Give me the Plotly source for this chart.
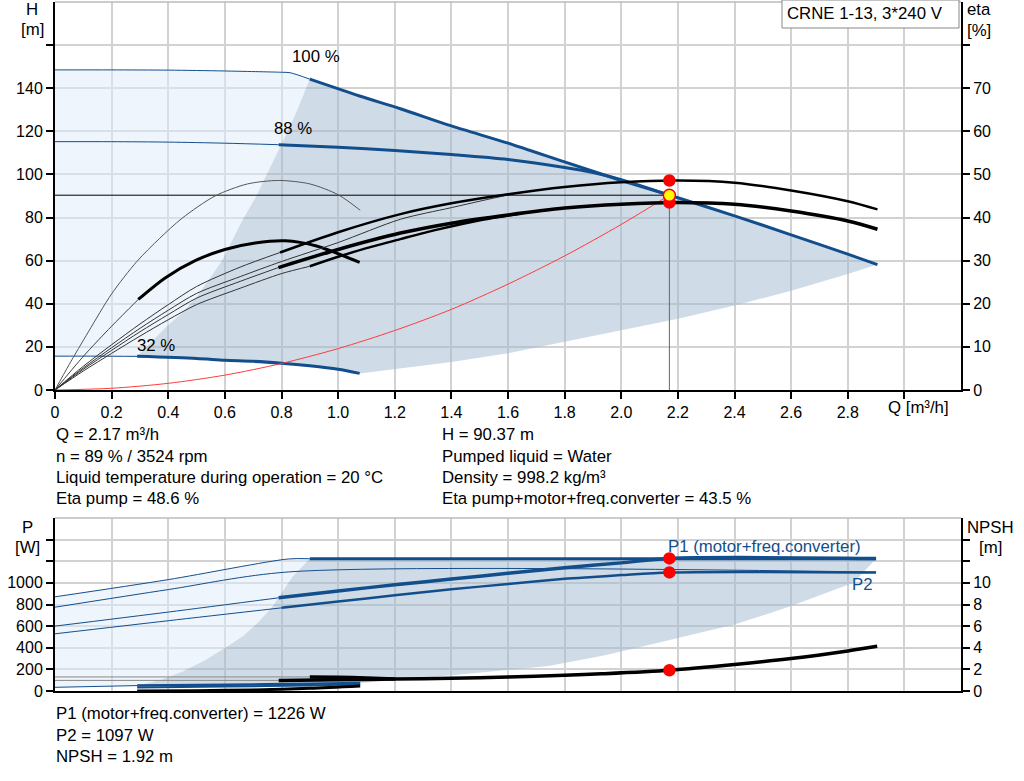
import plotly.graph_objects as go

W, H = 1024, 781
FONT = "Liberation Sans, Arial, sans-serif"
BLUE = "#134e8c"
RED = "#ff0000"
GRID = "#d2d2d2"
FILL_DARK = "rgba(160,185,210,0.5)"
FILL_LIGHT = "rgba(221,235,249,0.5)"
TXT = 16.8
TICK = 16

# ---- operating point ----
Q_OP = 2.17
H_OP = 90.37
ETA_PUMP = 48.6
ETA_TOTAL = 43.5
P1_OP = 1226
P2_OP = 1097
NPSH_OP = 1.92

# ---- H curves (m) ----
q_h100_thin = [0, 0.2, 0.4, 0.6, 0.8, 0.83, 0.9]
h100_thin = [148.5, 148.5, 148.4, 148.0, 147.4, 147.2, 144.2]
q_h100 = [0.9, 1.076, 1.22, 1.4, 1.6, 1.8, 2.0, 2.2, 2.4, 2.6, 2.8, 2.905]
h100 = [144.2, 136.4, 130.5, 122.5, 114.5, 105.8, 97.2, 89.2, 80.8, 72.0, 63.0, 58.2]

q_h88_thin = [0, 0.2, 0.4, 0.6, 0.79]
h88_thin = [115.2, 115.2, 115.0, 114.5, 113.8]
q_h88 = [0.79, 1.0, 1.2, 1.4, 1.6, 1.8, 1.9, 2.0, 2.17]
h88 = [113.8, 112.6, 111.1, 109.2, 106.9, 103.2, 100.9, 97.6, 90.4]

q_h32_thin = [0, 0.15, 0.29]
h32_thin = [15.7, 15.7, 15.6]
q_h32 = [0.29, 0.5, 0.6, 0.7, 0.8, 0.9, 1.0, 1.076]
h32 = [15.6, 14.6, 13.8, 13.3, 12.4, 11.2, 9.6, 7.7]

# operating area edges (H chart)
q_area_left = [0.29, 0.39, 0.45, 0.5, 0.59, 0.66, 0.707, 0.754, 0.8, 0.85, 0.9]
h_area_left = [15.6, 28.9, 36.0, 43.0, 60.0, 78.3, 89.0, 101.5, 114.0, 128.0, 144.2]
q_area_low = [1.076, 1.22, 1.4, 1.6, 1.8, 2.0, 2.2, 2.4, 2.6, 2.8, 2.905]
h_area_low = [7.7, 10.0, 13.0, 17.0, 22.3, 27.7, 33.0, 39.2, 46.0, 53.8, 58.2]

# system curve
q_sys = [0, 0.2, 0.4, 0.6, 0.8, 1.0, 1.2, 1.4, 1.6, 1.8, 2.0, 2.17]
h_sys = [0, 0.8, 3.1, 6.9, 12.3, 19.2, 27.6, 37.4, 49.1, 62.2, 76.8, 90.37]

# ---- eta curves (%) ----
q_eta_a = [0, 0.05, 0.118, 0.2, 0.289, 0.37, 0.448, 0.565, 0.68, 0.79, 0.9, 1.0, 1.078]
eta_a = [0, 5.9, 13.5, 22.3, 29.8, 35.2, 39.8, 45.0, 47.8, 48.6, 47.8, 45.3, 41.7]

q_eta_b_thin = [0, 0.1, 0.2, 0.294]
eta_b_thin = [0, 7.8, 14.8, 21.0]
q_eta_b = [0.294, 0.389, 0.495, 0.6, 0.707, 0.813, 0.924, 1.0, 1.076]
eta_b = [21.0, 26.0, 30.0, 32.6, 34.1, 34.6, 33.4, 31.6, 29.6]

q_eta_c_thin = [0, 0.1, 0.2, 0.3, 0.4, 0.5, 0.654, 0.795]
eta_c_thin = [0, 5.5, 10.5, 15.3, 19.8, 24.0, 28.5, 31.9]
q_eta_c = [0.795, 1.0, 1.22, 1.4, 1.6, 1.8, 2.0, 2.2, 2.4, 2.6, 2.8, 2.905]
eta_c = [31.9, 36.6, 40.8, 43.3, 45.4, 47.1, 48.2, 48.6, 48.1, 46.3, 43.8, 41.9]

q_eta_d = [0, 0.1, 0.2, 0.3, 0.4, 0.5, 0.654, 0.8, 1.0, 1.22, 1.4, 1.63, 1.8]
eta_d = [0, 5.1, 9.8, 14.3, 18.5, 22.4, 26.3, 29.8, 34.2, 39.6, 42.3, 45.6, 47.1]

q_eta_e_thin = [0, 0.1, 0.2, 0.3, 0.4, 0.5, 0.654, 0.789]
eta_e_thin = [0, 4.8, 9.2, 13.5, 17.5, 21.3, 25.2, 28.4]
q_eta_e = [0.789, 1.0, 1.22, 1.4, 1.6, 1.8, 2.0, 2.2, 2.4, 2.6, 2.8, 2.905]
eta_e = [28.4, 32.6, 36.4, 38.7, 40.6, 42.2, 43.1, 43.5, 43.1, 41.5, 39.2, 37.3]

q_eta_f_thin = [0, 0.1, 0.2, 0.3, 0.4, 0.5, 0.654, 0.8, 0.9]
eta_f_thin = [0, 4.4, 8.5, 12.5, 16.3, 19.8, 23.6, 27.0, 28.7]
q_eta_f = [0.9, 1.0, 1.1, 1.22, 1.35, 1.51, 1.65]
eta_f = [28.7, 30.9, 32.9, 35.0, 37.2, 39.5, 41.0]

# ---- power curves (W) ----
q_p1_100_thin = [0, 0.4, 0.824, 0.9]
p1_100_thin = [871, 1030, 1221, 1223]
q_p1_100 = [0.9, 2.9]
p1_100 = [1223, 1223]

q_p2_100 = [0, 0.4, 0.824, 2.9]
p2_100 = [775, 938, 1101, 1100]

q_p1_89_thin = [0, 0.4, 0.79]
p1_89_thin = [600, 730, 862]
q_p1_89 = [0.79, 1.0, 1.2, 1.4, 1.6, 1.8, 2.0, 2.17, 2.9]
p1_89 = [862, 925, 982, 1035, 1088, 1140, 1185, 1226, 1226]

q_p2_89_thin = [0, 0.4, 0.8]
p2_89_thin = [529, 650, 769]
q_p2_89 = [0.8, 1.0, 1.2, 1.4, 1.6, 1.8, 1.9, 2.0, 2.17, 2.9]
p2_89 = [769, 827, 885, 940, 990, 1038, 1055, 1072, 1097, 1097]

q_p1_32_thin = [0, 0.29]
p1_32_thin = [34, 50]
q_p1_32 = [0.29, 0.6, 0.9, 1.078]
p1_32 = [50, 58, 66, 75]
q_p2_32 = [0.29, 0.6, 0.9, 1.078]
p2_32 = [32, 41, 52, 62]

# power area edges
q_parea_left = [0.29, 0.37, 0.45, 0.53, 0.6, 0.665, 0.72, 0.77, 0.84, 0.9]
p_parea_left = [50, 100, 178, 285, 397, 508, 640, 785, 1062, 1223]
q_parea_low = [1.078, 1.43, 1.742, 1.93, 2.03, 2.4, 2.6, 2.82, 2.9]
p_parea_low = [75, 152, 231, 323, 383, 614, 785, 1000, 1223]

# ---- NPSH curves (m) ----
q_npsh_89 = [0.79, 1.0, 1.2, 1.4, 1.6, 1.8, 1.93, 2.17, 2.4, 2.6, 2.8, 2.904]
npsh_89 = [0.98, 1.03, 1.1, 1.18, 1.3, 1.45, 1.59, 1.92, 2.45, 3.0, 3.7, 4.13]
q_npsh_100 = [0.9, 1.0, 1.1, 1.2]
npsh_100 = [1.3, 1.27, 1.2, 1.12]
q_npsh_32 = [0.29, 0.5, 0.7, 0.9, 1.078]
npsh_32 = [0.0, 0.03, 0.1, 0.25, 0.47]
q_npsh_thin = [0, 0.79]
npsh_thin_89 = [0.98, 0.98]
q_npsh_thin_100 = [0, 0.9]
npsh_thin_100 = [1.3, 1.3]

x_ticks = [0, 0.2, 0.4, 0.6, 0.8, 1.0, 1.2, 1.4, 1.6, 1.8, 2.0, 2.2, 2.4, 2.6, 2.8, 3.0]
x_labels = ["0", "0.2", "0.4", "0.6", "0.8", "1.0", "1.2", "1.4", "1.6", "1.8",
            "2.0", "2.2", "2.4", "2.6", "2.8", ""]
h_ticks = [0, 20, 40, 60, 80, 100, 120, 140, 160]
eta_ticks = [0, 10, 20, 30, 40, 50, 60, 70, 80]
p_ticks = [0, 200, 400, 600, 800, 1000, 1200, 1400]
npsh_ticks = [0, 2, 4, 6, 8, 10, 12, 14]


def px(x):
    return x / W


def py(y):
    return 1 - y / H


def line(x, y, color, width, xa="x", ya="y", shape="spline"):
    return go.Scatter(x=x, y=y, mode="lines",
                      line={"color": color, "width": width, "shape": shape, "smoothing": 0.8},
                      xaxis=xa, yaxis=ya, hoverinfo="skip")


def area(x, y, color, xa="x", ya="y"):
    return go.Scatter(x=x, y=y, mode="lines", fill="toself", fillcolor=color,
                      line={"width": 0}, xaxis=xa, yaxis=ya, hoverinfo="skip")


def dot(x, y, xa, ya, color=RED, size=11, edge=RED):
    return go.Scatter(x=[x], y=[y], mode="markers",
                      marker={"color": color, "size": size, "line": {"color": edge, "width": 1.5}},
                      xaxis=xa, yaxis=ya, hoverinfo="skip")


def labels(ticks, last_shown):
    return [str(t) if t <= last_shown else "" for t in ticks]


traces = []

# --- top chart areas
traces.append(area(q_h100_thin + q_area_left[::-1] + q_h32_thin[::-1],
                   h100_thin + h_area_left[::-1] + h32_thin[::-1], FILL_LIGHT))
traces.append(area(q_area_left + q_h100 + q_area_low[::-1] + q_h32[::-1],
                   h_area_left + h100 + h_area_low[::-1] + h32[::-1], FILL_DARK))

# --- H curves
traces += [
    line(q_h100_thin, h100_thin, BLUE, 1),
    line(q_h100, h100, BLUE, 3),
    line(q_h88_thin, h88_thin, BLUE, 1),
    line(q_h88, h88, BLUE, 3),
    line(q_h32_thin, h32_thin, BLUE, 1),
    line(q_h32, h32, BLUE, 3),
    line(q_sys, h_sys, "#ff3b3b", 1),
    line([0, Q_OP], [H_OP, H_OP], "black", 1, shape="linear"),
    line([Q_OP, Q_OP], [H_OP, 0], "#666666", 1, shape="linear"),
]

# --- eta curves
traces += [
    line(q_eta_a, eta_a, "#555555", 1, ya="y2"),
    line(q_eta_b_thin, eta_b_thin, "#444444", 1, ya="y2"),
    line(q_eta_b, eta_b, "black", 3, ya="y2"),
    line(q_eta_d, eta_d, "#333333", 1, ya="y2"),
    line(q_eta_c_thin, eta_c_thin, "#333333", 1, ya="y2"),
    line(q_eta_c, eta_c, "black", 2.5, ya="y2"),
    line(q_eta_f_thin, eta_f_thin, "#333333", 1, ya="y2"),
    line(q_eta_f, eta_f, "black", 2.5, ya="y2"),
    line(q_eta_e_thin, eta_e_thin, "#333333", 1, ya="y2"),
    line(q_eta_e, eta_e, "black", 3.5, ya="y2"),
    dot(Q_OP, ETA_PUMP, "x", "y2"),
    dot(Q_OP, ETA_TOTAL, "x", "y2"),
    dot(Q_OP, H_OP / 2, "x", "y2", color="#ffff00", size=12),
]

# --- bottom chart areas
traces.append(area(q_p1_100_thin + q_parea_left[::-1] + q_p1_32_thin[::-1],
                   p1_100_thin + p_parea_left[::-1] + p1_32_thin[::-1],
                   FILL_LIGHT, "x2", "y3"))
traces.append(area(q_parea_left + q_p1_100 + q_parea_low[::-1] + q_p1_32[::-1],
                   p_parea_left + p1_100 + p_parea_low[::-1] + p1_32[::-1],
                   FILL_DARK, "x2", "y3"))

# --- power curves
traces += [
    line(q_p1_100_thin, p1_100_thin, BLUE, 1, "x2", "y3"),
    line(q_p1_100, p1_100, BLUE, 3, "x2", "y3"),
    line(q_p2_100, p2_100, BLUE, 1, "x2", "y3"),
    line(q_p1_89_thin, p1_89_thin, BLUE, 1, "x2", "y3"),
    line(q_p1_89, p1_89, BLUE, 3.5, "x2", "y3"),
    line(q_p2_89_thin, p2_89_thin, BLUE, 1, "x2", "y3"),
    line(q_p2_89, p2_89, BLUE, 2.5, "x2", "y3"),
    line(q_p1_32_thin, p1_32_thin, BLUE, 1, "x2", "y3"),
    line(q_p1_32, p1_32, BLUE, 2.5, "x2", "y3"),
    line(q_p2_32, p2_32, BLUE, 2, "x2", "y3"),
    dot(Q_OP, P1_OP, "x2", "y3"),
    dot(Q_OP, P2_OP, "x2", "y3"),
]

# --- NPSH curves
traces += [
    line(q_npsh_thin, npsh_thin_89, "#888888", 1, "x2", "y4"),
    line(q_npsh_thin_100, npsh_thin_100, "#888888", 1, "x2", "y4"),
    line(q_npsh_32, npsh_32, "black", 3, "x2", "y4"),
    line(q_npsh_100, npsh_100, "black", 3.5, "x2", "y4"),
    line(q_npsh_89, npsh_89, "black", 3.5, "x2", "y4"),
    dot(Q_OP, NPSH_OP, "x2", "y4"),
]

fig = go.Figure(traces)

x_dom = [px(55), px(961)]
top_dom = [py(390), py(2)]
bot_dom = [py(691), py(518)]

axis_common = dict(showline=True, linecolor="black", linewidth=2, zeroline=False,
                   automargin=False,
                   ticks="outside", ticklen=7, tickwidth=1.5, tickcolor="black",
                   tickfont={"family": FONT, "size": TICK, "color": "black"})

fig.update_layout(
    template="none",
    width=W, height=H,
    margin={"l": 0, "r": 0, "t": 0, "b": 0, "pad": 0},
    paper_bgcolor="white", plot_bgcolor="white",
    showlegend=False,
    font={"family": FONT, "size": TXT, "color": "black"},
    xaxis=dict(axis_common, domain=x_dom, anchor="y", range=[0, 3.2],
               tickvals=x_ticks, ticktext=x_labels, showgrid=True,
               gridcolor=GRID, gridwidth=1.5),
    yaxis=dict(axis_common, domain=top_dom, anchor="x", range=[0, 180],
               tickvals=h_ticks, ticktext=labels(h_ticks, 140), showgrid=True,
               gridcolor=GRID, gridwidth=1.5),
    yaxis2=dict(axis_common, overlaying="y", side="right", anchor="x", range=[0, 90],
                tickvals=eta_ticks, ticktext=labels(eta_ticks, 70), showgrid=False),
    xaxis2=dict(axis_common, domain=x_dom, anchor="y3", range=[0, 3.2],
                tickvals=x_ticks, showticklabels=False, ticks="", showgrid=True,
                gridcolor=GRID, gridwidth=1.5),
    yaxis3=dict(axis_common, domain=bot_dom, anchor="x2", range=[0, 1600],
                tickvals=p_ticks, ticktext=labels(p_ticks, 1000), showgrid=True,
                gridcolor=GRID, gridwidth=1.5),
    yaxis4=dict(axis_common, overlaying="y3", side="right", anchor="x2", range=[0, 16],
                tickvals=npsh_ticks, ticktext=labels(npsh_ticks, 10), showgrid=False),
)

shapes = [
    dict(type="line", xref="paper", yref="paper", x0=x_dom[0], x1=x_dom[1],
         y0=top_dom[1], y1=top_dom[1], line={"color": "#bbbbbb", "width": 1.5}),
    dict(type="line", xref="paper", yref="paper", x0=x_dom[0], x1=x_dom[1],
         y0=bot_dom[1], y1=bot_dom[1], line={"color": "#bbbbbb", "width": 1.5}),
    dict(type="rect", xref="paper", yref="paper", x0=px(782), x1=px(959),
         y0=py(28), y1=py(0), fillcolor="white", line={"color": "#888888", "width": 1},
         layer="above"),
]
fig.update_layout(shapes=shapes)


def ann(text, x, y, anchor="left", color="black"):
    return dict(text=text, x=px(x), y=py(y), xref="paper", yref="paper",
                xanchor=anchor, yanchor="middle", showarrow=False,
                font={"family": FONT, "size": TXT, "color": color})


annotations = [
    ann("H", 32, 10, "center"), ann("[m]", 32, 30, "center"),
    ann("eta", 979, 10, "center"), ann("[%]", 979, 31, "center"),
    ann("Q [m³/h]", 918, 407, "center"),
    ann("100 %", 316, 56, "center"), ann("88 %", 293, 128, "center"),
    ann("32 %", 156, 345, "center"),
    ann("CRNE 1-13, 3*240 V", 785, 14),
    ann(f"Q = {Q_OP} m³/h", 54, 434),
    ann("n = 89 % / 3524 rpm", 54, 456),
    ann("Liquid temperature during operation = 20 °C", 54, 477),
    ann(f"Eta pump = {ETA_PUMP} %", 54, 498),
    ann(f"H = {H_OP} m", 440, 434),
    ann("Pumped liquid = Water", 440, 456),
    ann("Density = 998.2 kg/m³", 440, 477),
    ann(f"Eta pump+motor+freq.converter = {ETA_TOTAL} %", 440, 498),
    ann("P", 27, 527, "center"), ann("[W]", 27, 547, "center"),
    ann("NPSH", 990, 527, "center"), ann("[m]", 990, 547, "center"),
    ann("P1 (motor+freq.converter)", 666, 546, color=BLUE),
    ann("P2", 862, 584, "center", color=BLUE),
    ann(f"P1 (motor+freq.converter) = {P1_OP} W", 54, 713),
    ann(f"P2 = {P2_OP} W", 54, 735),
    ann(f"NPSH = {NPSH_OP} m", 54, 756),
]
fig.update_layout(annotations=annotations)

fig.write_html("out.html", config={"displayModeBar": False},
               post_script="document.body.style.margin='0';")
